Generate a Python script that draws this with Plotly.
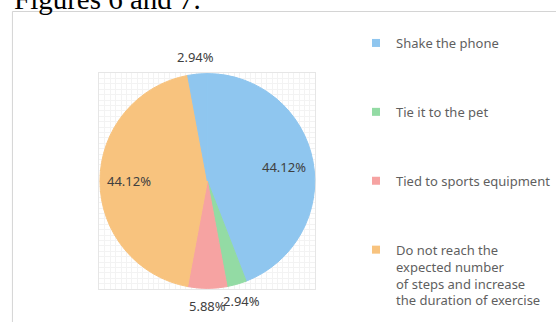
import math
import plotly.graph_objects as go

# Survey answers (34 respondents); the last slice repeats the first colour
categories = ["Shake the phone", "Tie it to the pet", "Tied to sports equipment",
              "Do not reach the<br>expected number<br>of steps and increase<br>the duration of exercise",
              "Other"]
counts = [15, 1, 2, 15, 1]
colors = ["#8FC6EF", "#93DBA4", "#F6A3A2", "#F8C37E", "#8FC6EF"]
label_inside = [True, False, False, True, False]
legend_items = 4

W, H = 556, 322
CX, CY, R = 208.5, 181.0, 108.0      # pie centre and radius, in pixels


def px_x(x):
    return x / W


def px_y(y):
    return 1 - y / H


fig = go.Figure()

# light grid behind the pie
fig.update_xaxes(domain=[px_x(100), px_x(317)], range=[0, 40], dtick=1,
                 showgrid=True, gridcolor="#f3f3f3", gridwidth=1,
                 showticklabels=False, ticks="", zeroline=False,
                 showline=True, linecolor="#e6e6e6", mirror=True, fixedrange=True)
fig.update_yaxes(domain=[px_y(289), px_y(73)], range=[0, 40], dtick=1,
                 showgrid=True, gridcolor="#f3f3f3", gridwidth=1,
                 showticklabels=False, ticks="", zeroline=False,
                 showline=True, linecolor="#e6e6e6", mirror=True, fixedrange=True)

fig.add_trace(go.Pie(
    labels=categories, values=counts, sort=False, direction="clockwise",
    rotation=0, marker=dict(colors=colors, line=dict(color=colors, width=1)),
    textinfo="none",
    domain=dict(x=[px_x(CX - R), px_x(CX + R)], y=[px_y(CY + R), px_y(CY - R)]),
    showlegend=False, hoverinfo="label+percent",
))

# percentage labels: inside ones sit at 0.73 R, outside ones just beyond the rim
total = sum(counts)
start = 0.0
for val, inside in zip(counts, label_inside):
    share = val / total
    mid = (start + share / 2) * 2 * math.pi
    start += share
    r = 0.73 * R if inside else R + 17
    fig.add_annotation(
        text=f"{share * 100:.2f}%", showarrow=False,
        x=px_x(CX + r * math.sin(mid)), y=px_y(CY - r * math.cos(mid)),
        xref="paper", yref="paper", xanchor="center", yanchor="middle",
        font=dict(family="Noto Sans", size=13, color="#404040"),
    )

# legend entries
for name, col in zip(categories[:legend_items], colors[:legend_items]):
    fig.add_trace(go.Scatter(
        x=[None], y=[None], mode="markers", name=name, legendgroup=name,
        marker=dict(symbol="square", size=8, color=col),
    ))

fig.add_annotation(
    text="Figures 6 and 7.", x=px_x(12), y=px_y(17), xref="paper", yref="paper",
    xanchor="left", yanchor="bottom", showarrow=False,
    font=dict(family="Liberation Serif", size=29, color="#000000"),
)

# chart frame
fig.add_shape(type="rect", xref="paper", yref="paper",
              x0=px_x(12.5), x1=1.05, y0=-0.05, y1=px_y(11.5),
              line=dict(color="#d4d4d4", width=1), fillcolor="rgba(0,0,0,0)", layer="below")

fig.update_layout(
    width=W, height=H, margin=dict(l=0, r=0, t=0, b=0),
    paper_bgcolor="white", plot_bgcolor="white",
    legend=dict(x=px_x(358), y=px_y(28), xanchor="left", yanchor="top",
                tracegroupgap=49, valign="top", bgcolor="rgba(0,0,0,0)",
                font=dict(family="Noto Sans", size=13, color="#5f5f5f")),
    showlegend=True,
)

fig.write_html("out.html")
